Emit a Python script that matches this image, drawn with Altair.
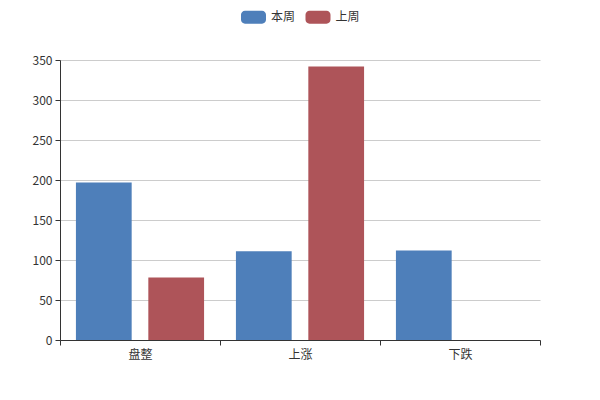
import altair as alt
import pandas as pd

categories = ["盘整", "上涨", "下跌"]
series_names = ["本周", "上周"]
this_week = [197, 111, 112]
last_week = [78, 342, 0]
colors = ["#4e7fba", "#ae5459"]

rows = []
for i, c in enumerate(categories):
    rows.append({"cat": c, "series": series_names[0], "value": this_week[i]})
    rows.append({"cat": c, "series": series_names[1], "value": last_week[i]})
df = pd.DataFrame(rows)

FONT = "Noto Sans CJK SC"
# rounded rectangle 25x13 px drawn in a 14px symbol box (scale 7)
rr = ("M -1.214,-0.93 H 1.214 A 0.571,0.571 0 0 1 1.786,-0.357 V 0.357 "
      "A 0.571,0.571 0 0 1 1.214,0.93 H -1.214 A 0.571,0.571 0 0 1 -1.786,0.357 "
      "V -0.357 A 0.571,0.571 0 0 1 -1.214,-0.93 Z")

chart = alt.Chart(df).mark_bar().encode(
    x=alt.X("cat:N", sort=categories, title=None,
            scale=alt.Scale(paddingInner=0, paddingOuter=0),
            axis=alt.Axis(labelAngle=0, tickBand="extent", domainColor="#333",
                          tickColor="#333", tickSize=5, labelColor="#333",
                          labelFontSize=12, labelFont=FONT, labelPadding=4, grid=False)),
    xOffset=alt.XOffset("series:N", sort=series_names,
                        scale=alt.Scale(paddingInner=0.23, paddingOuter=0.22)),
    y=alt.Y("value:Q", title=None,
            scale=alt.Scale(domain=[0, 350], nice=False),
            axis=alt.Axis(values=[0, 50, 100, 150, 200, 250, 300, 350],
                          domainColor="#333", tickColor="#333", tickSize=5,
                          labelColor="#333", labelFontSize=12, labelFont=FONT,
                          labelPadding=3, gridColor="#ccc")),
    color=alt.Color("series:N", sort=series_names,
                    scale=alt.Scale(domain=series_names, range=colors),
                    legend=alt.Legend(title=None, orient="none", direction="horizontal",
                                      legendX=186.5, legendY=-50, padding=0,
                                      symbolType=rr, symbolSize=196, symbolStrokeWidth=0,
                                      labelFont=FONT, labelFontSize=12, labelColor="#333",
                                      labelOffset=10.5, columnPadding=9.5)),
).properties(
    width=480, height=280,
    autosize=alt.AutoSizeParams(type="none"),
    padding={"left": 52, "top": 52, "right": 52, "bottom": 52},
).configure_view(stroke=None)

chart.save("out.html", embed_options={"renderer": "svg", "actions": False})
